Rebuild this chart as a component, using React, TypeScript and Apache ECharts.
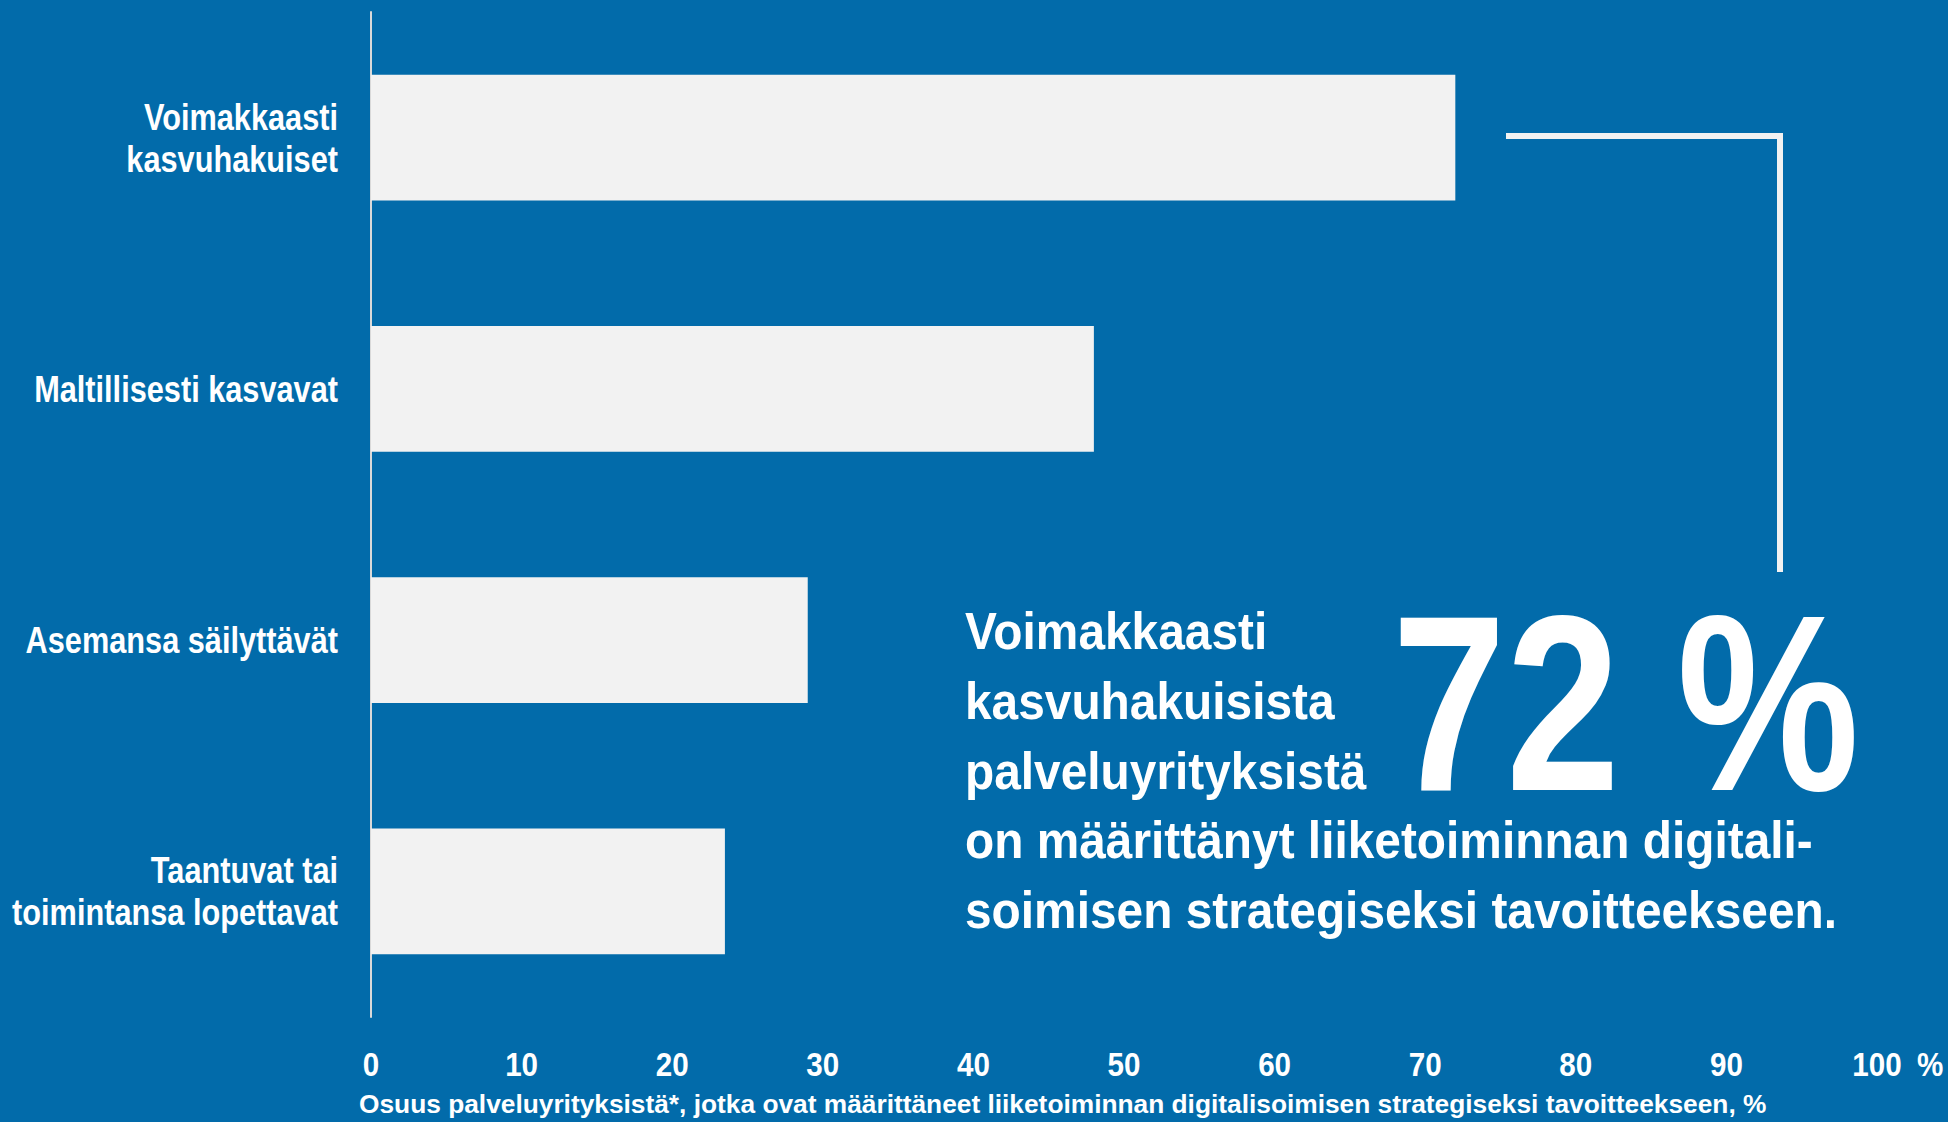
import React, { useEffect, useRef } from "react";
import * as echarts from "echarts";

const categories = [
  "Voimakkaasti\nkasvuhakuiset",
  "Maltillisesti kasvavat",
  "Asemansa säilyttävät",
  "Taantuvat tai\ntoimintansa lopettavat",
];
const values = [72, 48, 29, 23.5];
const tickValues = [0, 10, 20, 30, 40, 50, 60, 70, 80, 90, 100];
const tickUnit = "%";
const axisTitle =
  "Osuus palveluyrityksistä*, jotka ovat määrittäneet liiketoiminnan digitalisoimisen strategiseksi tavoitteekseen, %";
const calloutLines = [
  "Voimakkaasti",
  "kasvuhakuisista",
  "palveluyrityksistä",
  "on määrittänyt liiketoiminnan digitali-",
  "soimisen strategiseksi tavoitteekseen.",
];
const bigNumber = "72 %";

const BG = "#026BAA";
const BAR = "#F2F2F2";
const FONT = "'Liberation Sans', Arial, sans-serif";

const W = 1948;
const H = 1122;
const GRID = { left: 371, right: 71, top: 12, bottom: 105 };

export default function App() {
  const ref = useRef<HTMLDivElement>(null);
  useEffect(() => {
    if (!ref.current) return;
    const chart = echarts.init(ref.current, null, { renderer: "svg" });
    chart.setOption({
      animation: false,
      backgroundColor: BG,
      grid: { ...GRID, containLabel: false, outerBoundsMode: "none" },
      xAxis: {
        type: "value",
        min: tickValues[0],
        max: tickValues[tickValues.length - 1],
        interval: tickValues[1] - tickValues[0],
        splitLine: { show: false },
        axisLine: { show: false },
        axisTick: { show: false },
        axisLabel: { show: false },
      },
      yAxis: {
        type: "category",
        data: categories,
        inverse: true,
        axisLine: { show: true, lineStyle: { color: "#D9D9D9", width: 2 } },
        axisTick: { show: false },
        axisLabel: { show: false },
      },
      series: [
        {
          type: "bar",
          data: values,
          barCategoryGap: "50%",
          itemStyle: { color: BAR },
          silent: true,
        },
      ],
    });

    const x0 = chart.convertToPixel({ xAxisIndex: 0 }, 0) as number;
    const axisBottom = H - GRID.bottom;

    const catTexts = categories.map((c, i) => ({
      type: "text",
      x: x0 - 33,
      y: chart.convertToPixel({ yAxisIndex: 0 }, i) as number,
      scaleX: 0.83,
      style: {
        text: c,
        fill: "#FFFFFF",
        font: `bold 37px ${FONT}`,
        lineHeight: 42,
        align: "right",
        verticalAlign: "middle",
      },
    }));

    const tickTexts = tickValues.map((v) => ({
      type: "text",
      x: chart.convertToPixel({ xAxisIndex: 0 }, v) as number,
      y: axisBottom + 47,
      scaleX: 0.87,
      style: {
        text: String(v),
        fill: "#FFFFFF",
        font: `bold 34px ${FONT}`,
        align: "center",
        verticalAlign: "middle",
      },
    }));

    const lastX = chart.convertToPixel({ xAxisIndex: 0 }, tickValues[tickValues.length - 1]) as number;
    const lineYs = [631, 701, 771, 840, 910];

    chart.setOption({
      graphic: [
        {
          type: "polyline",
          shape: { points: [[1506, 136], [1780, 136], [1780, 572]] },
          style: { stroke: BAR, lineWidth: 6, fill: "none" },
        },
        ...catTexts,
        ...tickTexts,
        {
          type: "text",
          x: lastX + 40,
          y: axisBottom + 47,
          scaleX: 0.87,
          style: {
            text: tickUnit,
            fill: "#FFFFFF",
            font: `bold 34px ${FONT}`,
            align: "left",
            verticalAlign: "middle",
          },
        },
        ...calloutLines.map((t, i) => ({
          type: "text",
          x: 965,
          y: lineYs[i],
          scaleX: 0.92,
          style: {
            text: t,
            fill: "#FFFFFF",
            font: `bold 52px ${FONT}`,
            verticalAlign: "middle",
            align: "left",
          },
        })),
        {
          type: "text",
          x: 1392,
          y: 703,
          scaleX: 0.82,
          style: {
            text: bigNumber,
            fill: "#FFFFFF",
            font: `bold 250px ${FONT}`,
            verticalAlign: "middle",
            align: "left",
          },
        },
        {
          type: "text",
          x: 359,
          y: 1104,
          style: {
            text: axisTitle,
            fill: "#FFFFFF",
            font: `bold 26.3px ${FONT}`,
            verticalAlign: "middle",
            align: "left",
          },
        },
      ],
    });
    return () => chart.dispose();
  }, []);
  return (
    <div
      ref={ref}
      style={{ position: "fixed", left: 0, top: 0, width: W, height: H }}
    />
  );
}
